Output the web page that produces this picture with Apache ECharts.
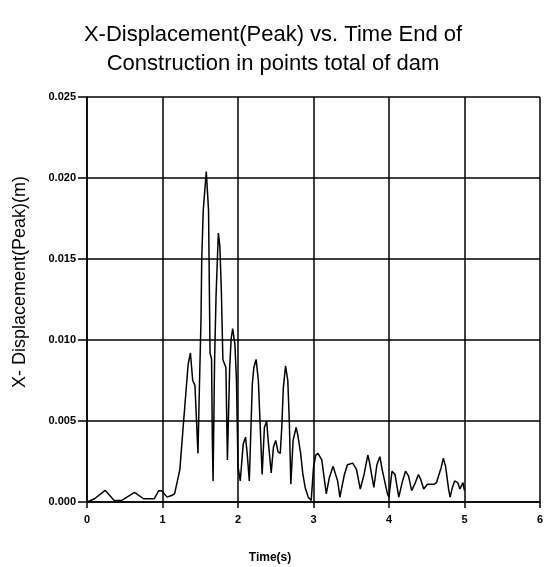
<!DOCTYPE html>
<html>
<head>
<meta charset="utf-8">
<script src="https://cdn.jsdelivr.net/npm/echarts@6/dist/echarts.min.js"></script>
<style>html,body{margin:0;padding:0;background:#fff;}#c{width:546px;height:567px;}</style>
</head>
<body>
<div id="c"></div>
<script>
var titleLines = ["X-Displacement(Peak) vs. Time End of", "Construction in points total of dam"];
var xAxisName = "Time(s)";
var yAxisName = "X- Displacement(Peak)(m)";
var xTicks = [0, 1, 2, 3, 4, 5, 6];
var yTicks = [0.000, 0.005, 0.010, 0.015, 0.020, 0.025];

var time = [
  0, 0.1, 0.24, 0.36, 0.46, 0.63, 0.75, 0.89, 0.95, 0.99,
  1.06, 1.12, 1.16, 1.23, 1.28, 1.34, 1.37, 1.40, 1.43, 1.47,
  1.49, 1.51, 1.52, 1.54, 1.58, 1.61, 1.63, 1.65, 1.66, 1.67,
  1.69, 1.71, 1.74, 1.76, 1.78, 1.80, 1.84, 1.86, 1.89, 1.91,
  1.93, 1.96, 1.98, 2.00, 2.03, 2.07, 2.10, 2.12, 2.15, 2.19,
  2.21, 2.24, 2.27, 2.29, 2.32, 2.35, 2.38, 2.40, 2.44, 2.47,
  2.50, 2.53, 2.56, 2.58, 2.60, 2.63, 2.66, 2.68, 2.70, 2.73,
  2.77, 2.79, 2.83, 2.86, 2.89, 2.93, 2.97, 3.00, 3.03, 3.06,
  3.11, 3.17, 3.21, 3.26, 3.28, 3.32, 3.35, 3.41, 3.45, 3.52,
  3.57, 3.62, 3.67, 3.72, 3.74, 3.80, 3.84, 3.88, 3.91, 3.98,
  4.00, 4.04, 4.08, 4.13, 4.18, 4.22, 4.26, 4.30, 4.35, 4.39,
  4.42, 4.46, 4.51, 4.60, 4.63, 4.69, 4.72, 4.75, 4.79, 4.81,
  4.84, 4.87, 4.91, 4.94, 4.98, 5.00
];
var disp = [
  0, 0.0002, 0.00072, 0.0001, 0.0001, 0.0006, 0.0002, 0.0002, 0.0007, 0.0007,
  0.0003, 0.0004, 0.0005, 0.002, 0.005, 0.0085, 0.0092, 0.0075, 0.0072, 0.003,
  0.0073, 0.0112, 0.015, 0.018, 0.0204, 0.018, 0.0092, 0.0088, 0.004, 0.0013,
  0.0087, 0.0128, 0.0166, 0.0158, 0.013, 0.0088, 0.0083, 0.0026, 0.0083, 0.0101,
  0.0107, 0.0097, 0.0075, 0.0022, 0.0013, 0.0036, 0.004, 0.0031, 0.0013, 0.0073,
  0.0083, 0.0088, 0.0075, 0.0052, 0.0017, 0.0046, 0.005, 0.0038, 0.0018, 0.0034,
  0.0038, 0.0031, 0.003, 0.0046, 0.007, 0.0084, 0.0075, 0.005, 0.0011, 0.0038,
  0.0046, 0.0042, 0.003, 0.0017, 0.0009, 0.0003, 0.0001, 0.0021, 0.0029, 0.003,
  0.0026, 0.0005, 0.0015, 0.0022, 0.0022, 0.0013, 0.0003, 0.0017, 0.0023, 0.0024,
  0.002, 0.0008, 0.0017, 0.0029, 0.0025, 0.0009, 0.0023, 0.0028, 0.002, 0.0005,
  0.0003, 0.0019, 0.0017, 0.0003, 0.0013, 0.0019, 0.0016, 0.0007, 0.0012, 0.0017,
  0.0014, 0.0008, 0.0011, 0.0011, 0.0012, 0.0021, 0.0027, 0.0022, 0.0008, 0.0003,
  0.0009, 0.0013, 0.0012, 0.0008, 0.0012, 0.0007
];

var points = time.map(function (t, i) { return [t, disp[i]]; });

var chart = echarts.init(document.getElementById('c'), null, {renderer: 'canvas'});
var tickFont = {color: '#000', fontSize: 11, fontWeight: 'bold', fontFamily: 'Liberation Sans, Arial, sans-serif'};
chart.setOption({
  animation: false,
  backgroundColor: '#fff',
  title: {
    text: titleLines.join('\n'),
    left: 'center',
    top: 15,
    textStyle: {fontFamily: 'Liberation Sans, Arial, sans-serif', fontSize: 22, fontWeight: 'normal', color: '#000', lineHeight: 29}
  },
  grid: {left: 87, right: 4, top: 97, bottom: 65},
  xAxis: {
    type: 'value',
    min: xTicks[0], max: xTicks[xTicks.length - 1], interval: 1,
    axisLine: {show: true, onZero: false, lineStyle: {color: '#000', width: 1.5}},
    axisTick: {show: true, length: 6, lineStyle: {color: '#000', width: 1.5}},
    axisLabel: Object.assign({margin: 12}, tickFont),
    splitLine: {show: true, lineStyle: {color: '#000', width: 1.5}}
  },
  yAxis: {
    type: 'value',
    min: yTicks[0], max: yTicks[yTicks.length - 1], interval: 0.005,
    axisLine: {show: true, onZero: false, lineStyle: {color: '#000', width: 1.5}},
    axisTick: {show: true, length: 9, lineStyle: {color: '#000', width: 1.5}},
    axisLabel: Object.assign({margin: 11, formatter: function (v) { return v.toFixed(3); }}, tickFont),
    splitLine: {show: true, lineStyle: {color: '#000', width: 1.5}}
  },
  graphic: [
    {
      type: 'text', x: 20, y: 282, rotation: Math.PI / 2,
      style: {text: yAxisName, fill: '#000', font: '18px "Liberation Sans", Arial, sans-serif', align: 'center', verticalAlign: 'middle'}
    },
    {
      type: 'text', x: 270, y: 558,
      style: {text: xAxisName, fill: '#000', font: 'bold 12px "Liberation Sans", Arial, sans-serif', align: 'center', verticalAlign: 'middle'}
    }
  ],
  series: [{
    type: 'line',
    data: points,
    showSymbol: false,
    lineStyle: {color: '#000', width: 1.5},
    itemStyle: {color: '#000'}
  }]
});
</script>
</body>
</html>
